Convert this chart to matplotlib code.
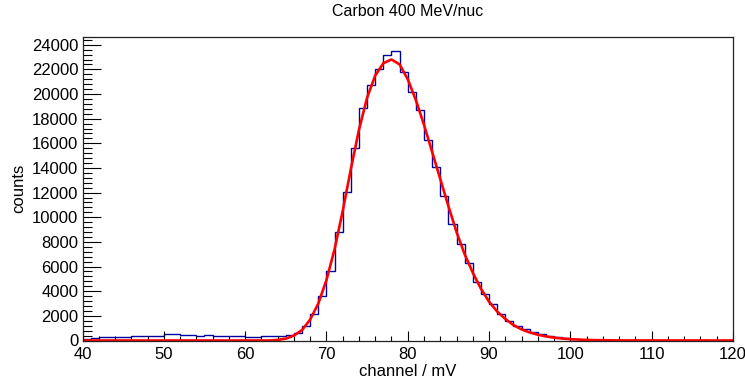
import numpy as np
import matplotlib
matplotlib.use("Agg")
import matplotlib.pyplot as plt
from matplotlib.ticker import MultipleLocator

plt.rcParams['font.family'] = ['Liberation Sans', 'DejaVu Sans']

# Histogram: 1 mV bins from 40 to 120 mV
bin_edges = list(range(40, 121))
counts = [135, 216, 300, 300, 300, 300, 405, 405, 405, 405,      # 40-49
          515, 515, 460, 460, 405, 460, 405, 405, 405, 405,      # 50-59
          300, 300, 350, 350, 380, 470, 620, 1150, 2150, 3640,   # 60-69
          5670, 8840, 12040, 15610, 18860, 20750, 22030, 23190, 23460, 21780,  # 70-79
          20160, 18720, 16230, 14040, 11760, 9460, 7810, 6270, 4730, 3780,     # 80-89
          2940, 2150, 1580, 1200, 910, 660, 530, 390, 250, 180,  # 90-99
          120, 80, 60, 40, 30, 20, 15, 10, 8, 5,                 # 100-109
          4, 3, 2, 2, 1, 1, 1, 0, 0, 0]                          # 110-119

# Fit curve values read at integer channel positions
fit_x = list(range(40, 121))
fit_y = [0] * 24 + [                                             # 40-63
    50, 150, 400, 850, 1700, 3000,                               # 64-69
    4900, 7400, 10500, 13900, 17100, 19700, 21500, 22500, 22800, 22400,  # 70-79
    21200, 19500, 17500, 15300, 13100, 10900, 8800, 7000, 5500, 4200,    # 80-89
    3150, 2350, 1750, 1250, 900, 650, 470, 330, 230, 160,        # 90-99
    110, 75, 50, 30, 20, 12, 8, 5, 3, 2,                         # 100-109
    1, 1, 0, 0, 0, 0, 0, 0, 0, 0, 0]                             # 110-120

title = "Carbon 400 MeV/nuc"
xlabel = "channel / mV"
ylabel = "counts"

fig = plt.figure(figsize=(7.45, 3.82), dpi=100)
ax = fig.add_axes([82.5 / 745, 41.5 / 382, (733 - 82.5) / 745, (340.5 - 36.7) / 382])

ax.stairs(counts, bin_edges, color='#0000a0', linewidth=1.0)
ax.plot(fit_x, fit_y, color='#ff0000', linewidth=1.9, solid_joinstyle='round')

ax.set_xlim(40, 120)
ax.set_ylim(0, 24650)

ax.xaxis.set_major_locator(MultipleLocator(10))
ax.xaxis.set_minor_locator(MultipleLocator(2))
ax.yaxis.set_major_locator(MultipleLocator(2000))
ax.yaxis.set_minor_locator(MultipleLocator(400))

ax.tick_params(axis='x', which='major', direction='in', length=7, width=0.8,
               labelsize=12, pad=5, top=False)
ax.tick_params(axis='x', which='minor', direction='in', length=3.6, width=0.8, top=False)
ax.tick_params(axis='y', which='major', direction='in', length=13, width=0.8,
               labelsize=12, pad=3, right=False)
ax.tick_params(axis='y', which='minor', direction='in', length=6.5, width=0.8, right=False)

for s in ax.spines.values():
    s.set_linewidth(0.9)
    s.set_color('#222222')

ax.set_xlabel(xlabel, fontsize=12, labelpad=1)
ax.set_ylabel(ylabel, fontsize=12, labelpad=4)
fig.text(407.5 / 745, 1 - 12 / 382, title, ha='center', va='center', fontsize=11.5)

fig.savefig("out.png", dpi=100)
